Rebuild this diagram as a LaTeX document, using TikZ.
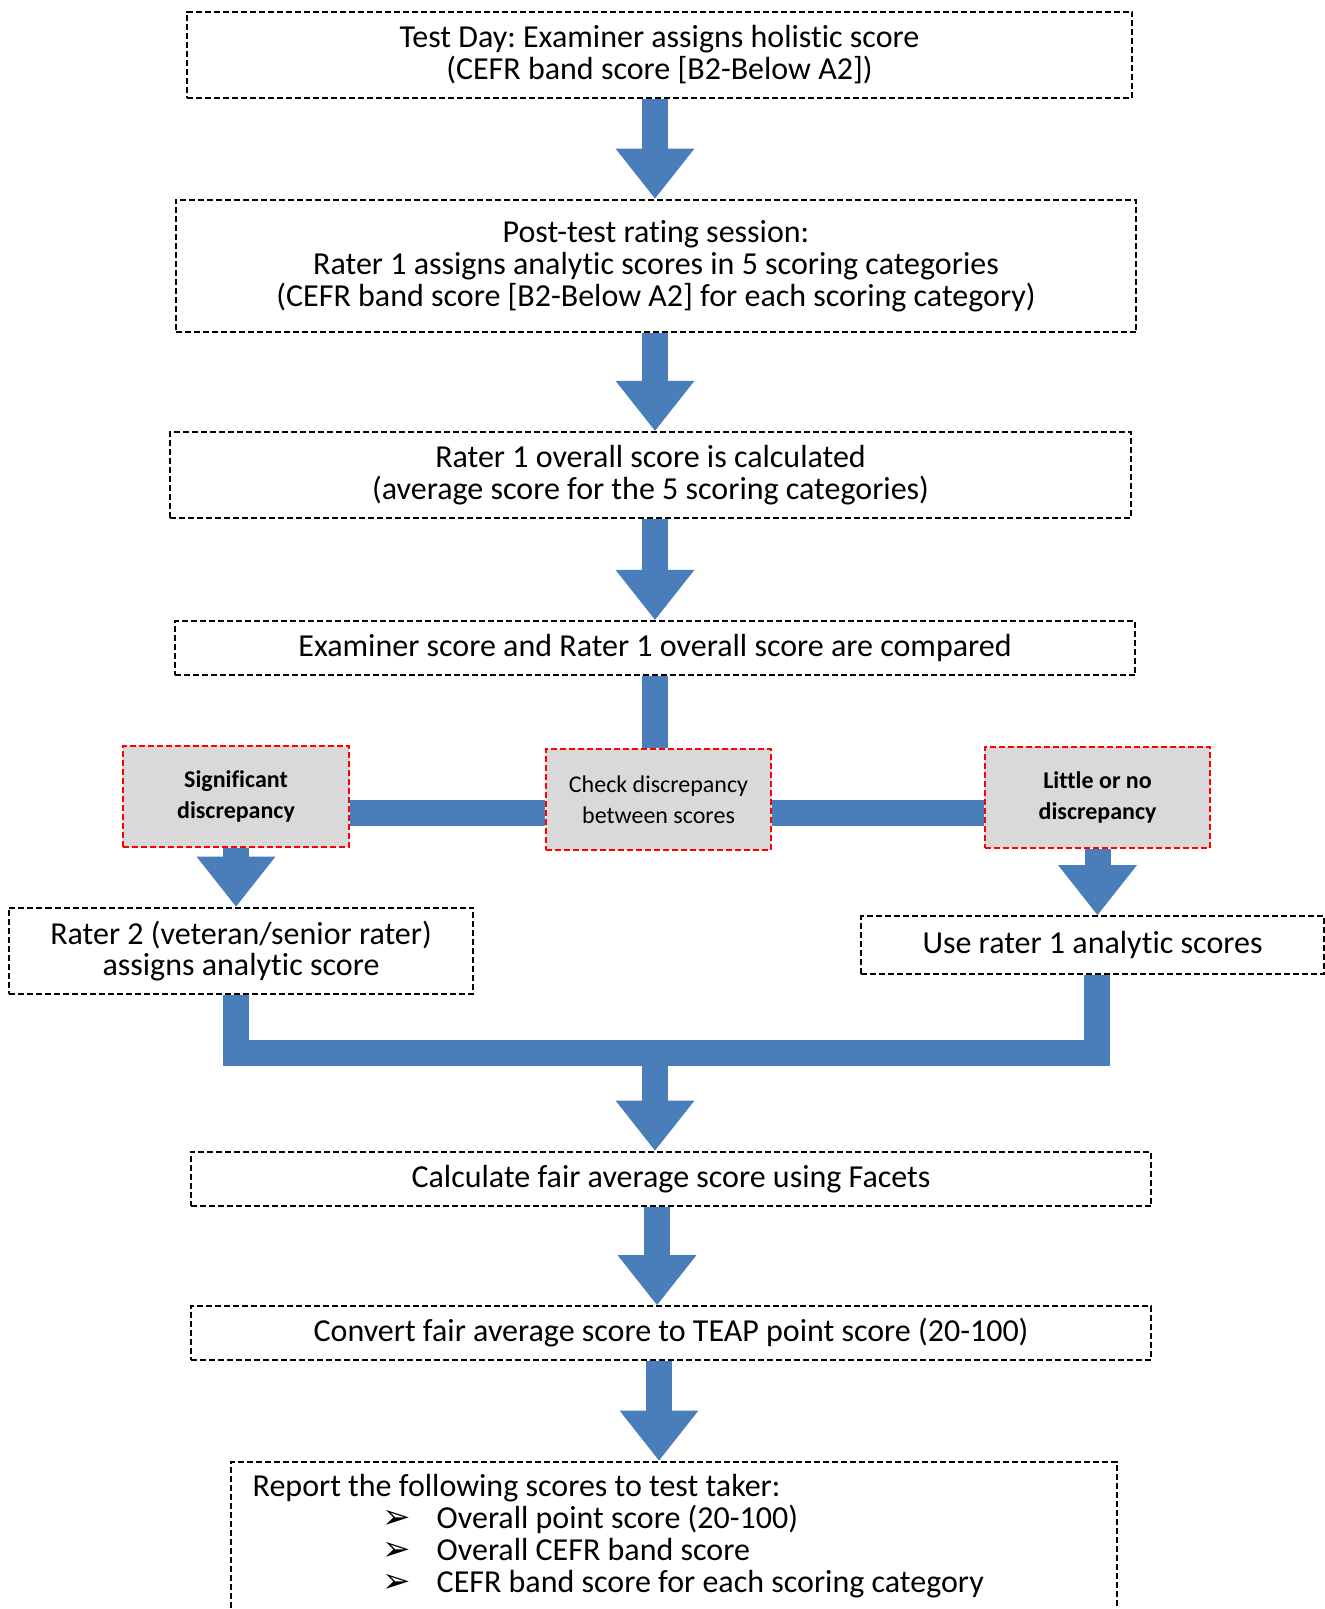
\documentclass[tikz,border=0pt]{standalone}
\usepackage{fontspec}
\setmainfont{Carlito}[Ligatures=NoCommon, RawFeature={-calt;-clig}]
\newfontfamily\bulletfont{DejaVu Sans}
\usepackage{tikz}
\usetikzlibrary{arrows.meta, positioning}
\definecolor{flowblue}{HTML}{4A7EBB}
\definecolor{boxgrey}{HTML}{D9D9D9}
\frenchspacing
\tikzset{%
  block/.style={rectangle, draw, dash pattern=on 3pt off 1.5pt, line width=1.2pt, align=center, inner sep=0pt, font=\fontsize{16}{15.9}\selectfont},
  redblock/.style={rectangle, draw=red, fill=boxgrey, dash pattern=on 3pt off 1.5pt, line width=1.3pt, align=center, inner sep=0pt, minimum width=112.5pt, minimum height=50.5pt, font=\fontsize{12}{15.4}\selectfont},
  boldredblock/.style={redblock, font=\fontsize{12}{15.4}\selectfont\bfseries},
  bigbar/.style={draw=flowblue, line width=13pt},
  bigarrow/.style={bigbar, -{Triangle[width=39.5pt, length=25pt, line width=0pt]}}}
\newcommand{\bul}{\makebox[27pt][l]{\bulletfont\fontsize{17}{15.9}\selectfont ➢}}

\begin{document}
\begin{tikzpicture}[x=0.5pt, y=-0.5pt]
  \useasboundingbox (0,0) rectangle (1325,1609);
  \coordinate (spine) at (655,0);
  \coordinate (bar) at (0,813);
  \coordinate (merge) at (655,1053);

  % main steps
  \node [block, minimum width=472.5pt, minimum height=43.25pt] (testday) at (659.5,55)
    {Test Day: Examiner assigns holistic score\\(CEFR band score [B2-Below A2])};
  \node [block, minimum width=480.25pt, minimum height=66.25pt] (session) at (656,266)
    {Post-test rating session:\\Rater 1 assigns analytic scores in 5 scoring categories\\(CEFR band score [B2-Below A2] for each scoring category)};
  \node [block, minimum width=480.5pt, minimum height=43pt] (overall) at (650.5,475)
    {Rater 1 overall score is calculated\\(average score for the 5 scoring categories)};
  \node [block, minimum width=480.25pt, minimum height=27pt] (compare) at (655,648)
    {Examiner score and Rater 1 overall score are compared};

  % discrepancy check
  \node [redblock] (check) at (658.5,799.5) {Check discrepancy\\between scores};
  \node [boldredblock, minimum width=113pt] (signif) at (236,796.5) {Significant\\discrepancy};
  \node [boldredblock] (little) at (1097.5,797.5) {Little or no\\discrepancy};
  \node [block, minimum width=232pt, minimum height=43.25pt] (rater2) at (241,951)
    {Rater 2 (veteran/senior rater)\\assigns analytic score};
  \node [block, minimum width=231.5pt, minimum height=28.75pt] (userater1) at (1092.5,945)
    {Use rater 1 analytic scores};

  % final steps
  \node [block, minimum width=480.25pt, minimum height=27.25pt] (facets) at (671,1179)
    {Calculate fair average score using Facets};
  \node [block, minimum width=480.25pt, minimum height=26.75pt] (convert) at (671,1333)
    {Convert fair average score to TEAP point score (20-100)};
  \node [block, anchor=north west, align=flush left, text width=421.25pt, inner xsep=10.75pt, inner ysep=6.5pt] (report) at (230,1460.5)
    {Report the following scores to test taker:\\
     \hspace*{65pt}\bul Overall point score (20-100)\\
     \hspace*{65pt}\bul Overall CEFR band score\\
     \hspace*{65pt}\bul CEFR band score for each scoring category\rule[-30pt]{0pt}{30pt}};

  % connectors
  \draw [bigarrow] (testday.south -| spine) -- (session.north -| spine);
  \draw [bigarrow] (session.south -| spine) -- (overall.north -| spine);
  \draw [bigarrow] (overall.south -| spine) -- (compare.north -| spine);
  \draw [bigbar] (compare.south -| spine) -- (check.north -| spine);
  \draw [bigbar] (signif.east |- bar) -- (check.west |- bar);
  \draw [bigbar] (check.east |- bar) -- (little.west |- bar);
  \draw [bigarrow] (signif.south) -- (signif.south |- rater2.north);
  \draw [bigarrow] (little.south) -- (little.south |- userater1.north);
  \draw [bigbar, line join=miter] ([xshift=-2.75pt]rater2.south) |- (merge) -| ([xshift=2.25pt]userater1.south);
  \draw [bigarrow] (merge) -- (merge |- facets.north);
  \draw [bigarrow] ([xshift=1pt]facets.south -| spine) -- ([xshift=1pt]convert.north -| spine);
  \draw [bigarrow] ([xshift=2pt]convert.south -| spine) -- ([xshift=2pt]report.north -| spine);
\end{tikzpicture}
\end{document}
